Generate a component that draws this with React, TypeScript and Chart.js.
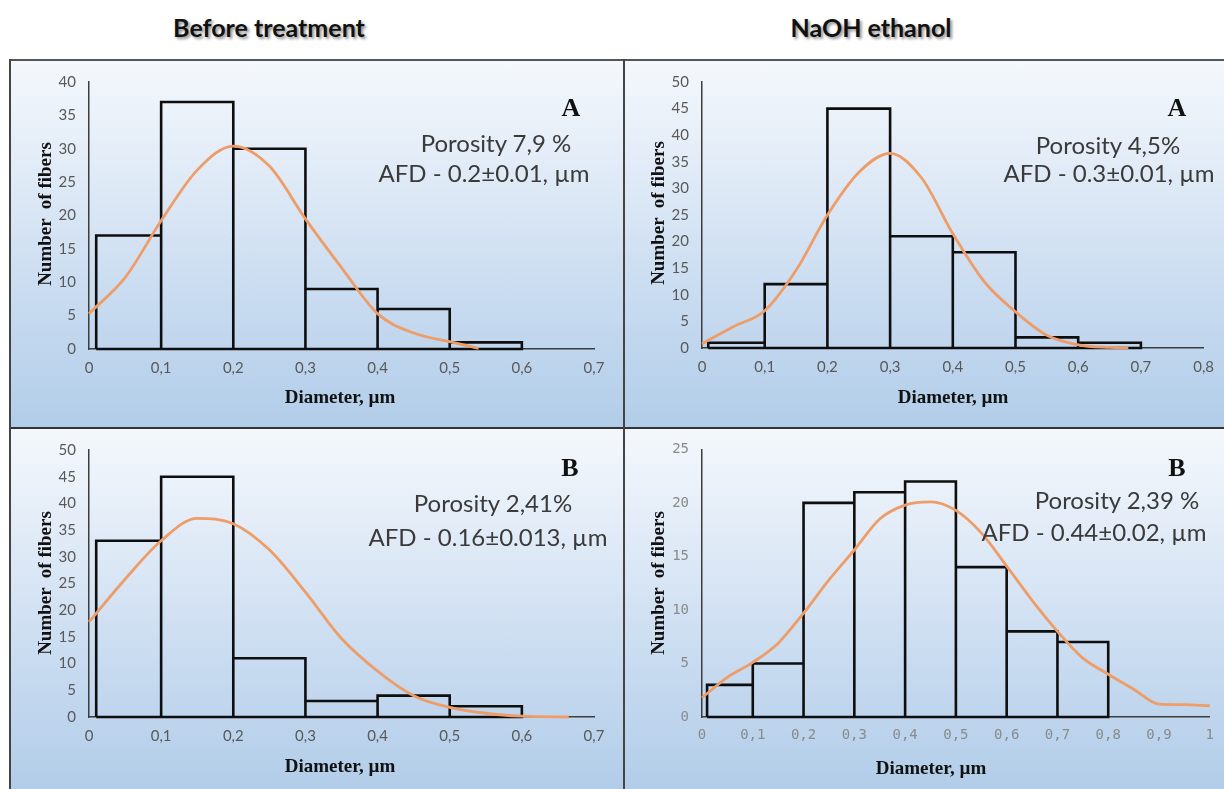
import React, { useEffect, useRef } from 'react';
import { Chart, registerables } from 'chart.js';

Chart.register(...registerables);

// ---- Before treatment, sample A ----
const beforeAEdges = [0.01, 0.1, 0.2, 0.3, 0.4, 0.5, 0.6];
const beforeACounts = [17, 37, 30, 9, 6, 1];
const beforeAFitX = [0, 0.05, 0.1, 0.15, 0.2, 0.25, 0.3, 0.35, 0.4, 0.45, 0.5, 0.54];
const beforeAFitY = [5.3, 10.7, 19.2, 26.8, 30.4, 27.4, 19.5, 12.2, 5.3, 2.4, 1.1, 0.1];

// ---- NaOH ethanol, sample A ----
const naohAEdges = [0.01, 0.1, 0.2, 0.3, 0.4, 0.5, 0.6, 0.7];
const naohACounts = [1, 12, 45, 21, 18, 2, 1];
const naohAFitX = [0, 0.05, 0.1, 0.15, 0.2, 0.25, 0.3, 0.35, 0.4, 0.45, 0.5, 0.55, 0.6, 0.65, 0.68];
const naohAFitY = [0.8, 4, 7, 14.6, 25, 33, 36.6, 32, 21.5, 12.5, 6.8, 2.4, 0.6, 0.1, 0];

// ---- Before treatment, sample B ----
const beforeBEdges = [0.01, 0.1, 0.2, 0.3, 0.4, 0.5, 0.6];
const beforeBCounts = [33, 45, 11, 3, 4, 2];
const beforeBFitX = [0, 0.05, 0.1, 0.15, 0.2, 0.25, 0.3, 0.35, 0.4, 0.45, 0.5, 0.55, 0.6, 0.665];
const beforeBFitY = [17.8, 25.8, 33, 37.2, 36.2, 31.3, 23.4, 14.7, 8.6, 4, 1.8, 0.7, 0.15, 0];

// ---- NaOH ethanol, sample B ----
const naohBEdges = [0.01, 0.1, 0.2, 0.3, 0.4, 0.5, 0.6, 0.7, 0.8];
const naohBCounts = [3, 5, 20, 21, 22, 14, 8, 7];
const naohBFitX = [0, 0.05, 0.1, 0.15, 0.2, 0.25, 0.3, 0.35, 0.4, 0.45, 0.5, 0.55, 0.6, 0.65, 0.7, 0.75, 0.8, 0.85, 0.9, 0.95, 1];
const naohBFitY = [1.8, 3.7, 5.1, 6.9, 9.7, 12.8, 15.6, 18.5, 19.8, 20.1, 19.3, 17.2, 14.1, 10.9, 8, 5.5, 4, 2.6, 1.2, 1.15, 1.05];

// Column headings
const columnTitles = ['Before treatment', 'NaOH ethanol'];

type Pt = { x: number; y: number };

// Closed outline of adjoining histogram rectangles
function histogramOutline(edges: number[], counts: number[]): Pt[] {
  const pts: Pt[] = [{ x: edges[0], y: 0 }];
  counts.forEach((c, i) => {
    pts.push({ x: edges[i], y: c }, { x: edges[i + 1], y: c }, { x: edges[i + 1], y: 0 });
  });
  pts.push({ x: edges[0], y: 0 });
  return pts;
}

function zipPoints(xs: number[], ys: number[]): Pt[] {
  return xs.map((x, i) => ({ x, y: ys[i] }));
}

const commaTick = (v: number | string) => {
  const n = Math.round(Number(v) * 10) / 10;
  return String(n).replace('.', ',');
};

type PanelCfg = {
  key: string;
  box: { x: number; y: number; w: number; h: number };
  plot: { l: number; r: number; t: number; b: number };
  xMax: number;
  yMax: number;
  edges: number[];
  counts: number[];
  fitX: number[];
  fitY: number[];
  tickFont: { family: string; size: number };
  tickColor: string;
  letter: string;
  porosity: string;
  afd: string;
  letterPos: [number, number];
  porosityPos: [number, number];
  afdPos: [number, number];
  xTitlePos: [number, number];
  yTitlePos: [number, number];
};

const calibriLike = { family: 'Lato, "Open Sans", sans-serif', size: 15 };
const monoLike = { family: '"DejaVu Sans Mono", monospace', size: 14 };

const panels: PanelCfg[] = [
  {
    key: 'beforeA',
    box: { x: 10, y: 60, w: 614, h: 368 },
    plot: { l: 89, r: 594, t: 77, b: 349 },
    xMax: 0.7, yMax: 40,
    edges: beforeAEdges, counts: beforeACounts, fitX: beforeAFitX, fitY: beforeAFitY,
    tickFont: calibriLike, tickColor: '#595959',
    letter: 'A', porosity: 'Porosity 7,9 %', afd: 'AFD - 0.2±0.01, µm',
    letterPos: [571, 108], porosityPos: [496, 143], afdPos: [484, 173],
    xTitlePos: [340, 396], yTitlePos: [44, 214],
  },
  {
    key: 'naohA',
    box: { x: 624, y: 60, w: 600, h: 368 },
    plot: { l: 702, r: 1207, t: 76, b: 348 },
    xMax: 0.8, yMax: 50,
    edges: naohAEdges, counts: naohACounts, fitX: naohAFitX, fitY: naohAFitY,
    tickFont: calibriLike, tickColor: '#595959',
    letter: 'A', porosity: 'Porosity 4,5%', afd: 'AFD - 0.3±0.01, µm',
    letterPos: [1177, 108], porosityPos: [1108, 145], afdPos: [1109, 173],
    xTitlePos: [953, 396], yTitlePos: [657, 213],
  },
  {
    key: 'beforeB',
    box: { x: 10, y: 428, w: 614, h: 361 },
    plot: { l: 89, r: 594, t: 445, b: 717 },
    xMax: 0.7, yMax: 50,
    edges: beforeBEdges, counts: beforeBCounts, fitX: beforeBFitX, fitY: beforeBFitY,
    tickFont: calibriLike, tickColor: '#595959',
    letter: 'B', porosity: 'Porosity 2,41%', afd: 'AFD - 0.16±0.013, µm',
    letterPos: [570, 468], porosityPos: [493, 503], afdPos: [488, 537],
    xTitlePos: [340, 765], yTitlePos: [44, 583],
  },
  {
    key: 'naohB',
    box: { x: 624, y: 428, w: 600, h: 361 },
    plot: { l: 702, r: 1212, t: 445, b: 717 },
    xMax: 1, yMax: 25,
    edges: naohBEdges, counts: naohBCounts, fitX: naohBFitX, fitY: naohBFitY,
    tickFont: monoLike, tickColor: '#8a8a8a',
    letter: 'B', porosity: 'Porosity 2,39 %', afd: 'AFD - 0.44±0.02, µm',
    letterPos: [1177, 468], porosityPos: [1117, 500], afdPos: [1094, 532],
    xTitlePos: [931, 767], yTitlePos: [657, 583],
  },
];

const AXIS_LINE = '#3d3d3d';

function HistogramChart({ cfg }: { cfg: PanelCfg }) {
  const ref = useRef<HTMLCanvasElement>(null);

  useEffect(() => {
    const { box, plot } = cfg;
    const chart = new Chart(ref.current as HTMLCanvasElement, {
      type: 'line',
      data: {
        datasets: [
          {
            label: 'fit',
            data: zipPoints(cfg.fitX, cfg.fitY),
            borderColor: '#ee9d68',
            borderWidth: 2.8,
            pointRadius: 0,
            fill: false,
            cubicInterpolationMode: 'monotone',
            clip: false,
            order: 0,
          },
          {
            label: 'histogram',
            data: histogramOutline(cfg.edges, cfg.counts),
            borderColor: '#0e0e0e',
            borderWidth: 2.6,
            borderJoinStyle: 'miter',
            pointRadius: 0,
            fill: false,
            tension: 0,
            clip: false,
            order: 1,
          },
        ],
      },
      options: {
        animation: false,
        responsive: false,
        maintainAspectRatio: false,
        events: [],
        plugins: { legend: { display: false }, tooltip: { enabled: false } },
        layout: {
          padding: { left: 0, top: plot.t - box.y, right: box.x + box.w - plot.r, bottom: 0 },
        },
        scales: {
          x: {
            type: 'linear',
            min: 0,
            max: cfg.xMax,
            afterFit: (s: any) => { s.height = box.y + box.h - plot.b; },
            grid: { display: false, drawTicks: false },
            border: { display: true, color: AXIS_LINE, width: 1.5 },
            ticks: {
              stepSize: 0.1,
              autoSkip: false,
              maxRotation: 0,
              padding: 10,
              color: cfg.tickColor,
              font: cfg.tickFont,
              callback: (v: any) => commaTick(v),
            },
          },
          y: {
            type: 'linear',
            min: 0,
            max: cfg.yMax,
            afterFit: (s: any) => { s.width = plot.l - box.x; },
            grid: { display: false, drawTicks: false },
            border: { display: true, color: AXIS_LINE, width: 1.5 },
            ticks: {
              stepSize: 5,
              autoSkip: false,
              padding: 13,
              color: cfg.tickColor,
              font: cfg.tickFont,
            },
          },
        },
      },
    } as any);
    return () => chart.destroy();
  }, [cfg]);

  return (
    <canvas
      ref={ref}
      width={cfg.box.w}
      height={cfg.box.h}
      style={{ position: 'absolute', left: cfg.box.x, top: cfg.box.y, width: cfg.box.w, height: cfg.box.h }}
    />
  );
}

const serif = '"Liberation Serif", "Times New Roman", serif';
const sans = 'Lato, "Open Sans", sans-serif';

function Label({ at, text, style }: { at: [number, number]; text: string; style: React.CSSProperties }) {
  return (
    <div
      style={{
        position: 'absolute',
        left: at[0],
        top: at[1],
        transform: 'translate(-50%, -50%)',
        whiteSpace: 'pre',
        lineHeight: 1,
        ...style,
      }}
    >
      {text}
    </div>
  );
}

export default function App() {
  return (
    <div
      style={{
        position: 'absolute',
        left: 0,
        top: 0,
        width: 1224,
        height: 789,
        overflow: 'hidden',
        background: '#ffffff',
      }}
    >
      {panels.map((p) => (
        <div
          key={p.key + '-bg'}
          style={{
            position: 'absolute',
            left: p.box.x,
            top: p.box.y,
            width: p.box.w,
            height: p.box.h,
            background: 'linear-gradient(180deg, #f4f8fc 0%, #e1ebf7 30%, #c8dbf0 65%, #b2cde9 100%)',
          }}
        />
      ))}

      {panels.map((p) => (
        <HistogramChart key={p.key} cfg={p} />
      ))}

      {panels.map((p) => (
        <React.Fragment key={p.key + '-text'}>
          <Label at={p.letterPos} text={p.letter} style={{ fontFamily: serif, fontWeight: 700, fontSize: 26, color: '#111' }} />
          <Label at={p.porosityPos} text={p.porosity} style={{ fontFamily: sans, fontSize: 24, color: '#3a3a3a' }} />
          <Label at={p.afdPos} text={p.afd} style={{ fontFamily: sans, fontSize: 24, color: '#3a3a3a' }} />
          <Label at={p.xTitlePos} text={'Diameter, µm'} style={{ fontFamily: serif, fontWeight: 700, fontSize: 19, color: '#111' }} />
          <Label
            at={p.yTitlePos}
            text={'Number  of fibers'}
            style={{
              fontFamily: serif,
              fontWeight: 700,
              fontSize: 19,
              color: '#111',
              transform: 'translate(-50%, -50%) rotate(-90deg)',
            }}
          />
        </React.Fragment>
      ))}

      {/* column headings */}
      {[269, 871].map((cx, i) => (
        <Label
          key={'head' + i}
          at={[cx, 27]}
          text={columnTitles[i]}
          style={{
            fontFamily: sans,
            fontWeight: 700,
            fontSize: 25,
            color: '#111',
            textShadow: '2px 2px 3px rgba(0,0,0,0.45)',
          }}
        />
      ))}

      {/* frame lines */}
      <div style={{ position: 'absolute', left: 10, top: 59, width: 1214, height: 2, background: '#555' }} />
      <div style={{ position: 'absolute', left: 10, top: 427, width: 1214, height: 2, background: '#333' }} />
      <div style={{ position: 'absolute', left: 9, top: 59, width: 2, height: 730, background: '#444' }} />
      <div style={{ position: 'absolute', left: 623, top: 59, width: 2, height: 730, background: '#444' }} />
    </div>
  );
}
